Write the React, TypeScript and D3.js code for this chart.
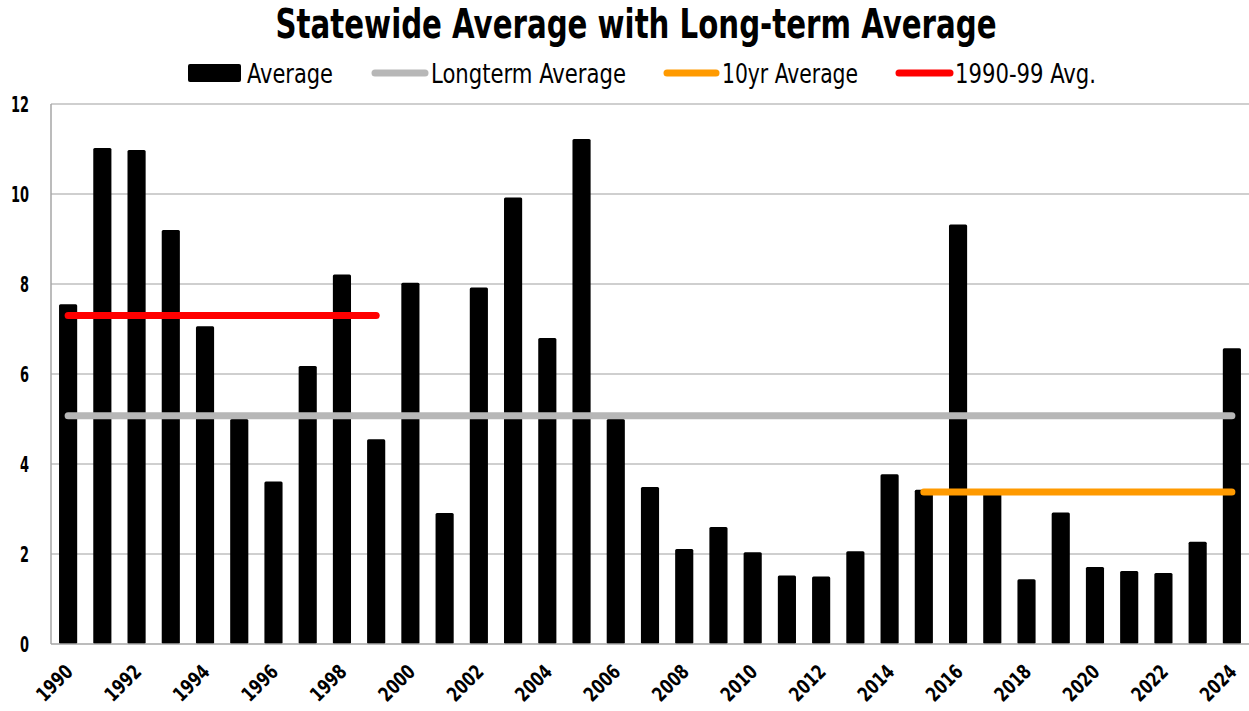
import { useEffect, useRef } from 'react';
import * as d3 from 'd3';

const years = d3.range(1990, 2025).map(String);
const averages = [7.55, 11.02, 10.98, 9.2, 7.06, 5.0, 3.61, 6.18, 8.21, 4.55,
    8.03, 2.91, 7.92, 9.92, 6.8, 11.22, 5.0, 3.49, 2.11, 2.6,
    2.04, 1.52, 1.5, 2.06, 3.77, 3.43, 9.32, 3.35, 1.44, 2.92,
    1.71, 1.62, 1.58, 2.27, 6.57];
const longtermAvg = 5.07;
const tenYrAvg = 3.38;
const nineties = 7.3;
const yTicks = [0, 2, 4, 6, 8, 10, 12];
const legendLabels = ['Average', 'Longterm Average', '10yr Average', '1990-99 Avg.'];

const W = 1249;
const H = 711;
const FONT = '"DejaVu Sans Condensed", "Liberation Sans Narrow", "Roboto", sans-serif';

const App = () => {
    const chartRef = useRef<SVGSVGElement | null>(null);

    useEffect(() => {
        document.body.style.margin = '0';
        const svg = d3.select(chartRef.current);
        svg.selectAll('*').remove();

        // band centers land on even 1/35 steps of the plot width
        const x = d3.scaleBand<string>()
            .domain(years)
            .range([51, 1249])
            .paddingInner(0.47)
            .paddingOuter(0.235);
        const xc = (y: string) => (x(y) ?? 0) + x.bandwidth() / 2;

        const y = d3.scaleLinear().domain([0, 12]).range([644, 104]);

        // grid
        svg.append('g')
            .selectAll('line')
            .data(yTicks.filter(t => t > 0))
            .join('line')
            .attr('x1', 51).attr('x2', 1249)
            .attr('y1', d => y(d)).attr('y2', d => y(d))
            .attr('stroke', '#bfbfbf').attr('stroke-width', 1.5);

        // y labels
        svg.append('g')
            .selectAll('text')
            .data(yTicks)
            .join('text')
            .attr('x', 29).attr('y', d => y(d))
            .attr('dy', '0.36em')
            .attr('text-anchor', 'end')
            .attr('textLength', d => String(d).length * 9)
            .attr('lengthAdjust', 'spacingAndGlyphs')
            .style('font-family', FONT).style('font-weight', 'bold').style('font-size', '22px')
            .text(d => d);

        // bars
        svg.append('g')
            .selectAll('rect')
            .data(averages)
            .join('rect')
            .attr('x', (_, i) => x(years[i]) ?? 0)
            .attr('y', d => y(d))
            .attr('width', x.bandwidth())
            .attr('height', d => y(0) - y(d))
            .attr('rx', 1.5)
            .attr('fill', '#000');

        // axes lines
        svg.append('line')
            .attr('x1', 51).attr('x2', 51).attr('y1', 104).attr('y2', 644)
            .attr('stroke', '#a6a6a6').attr('stroke-width', 1.5);
        svg.append('line')
            .attr('x1', 51).attr('x2', 1249).attr('y1', 644).attr('y2', 644)
            .attr('stroke', '#a6a6a6').attr('stroke-width', 1.5);

        // average lines
        const refLine = (from: string, to: string, v: number, color: string) => {
            svg.append('line')
                .attr('x1', xc(from)).attr('x2', xc(to))
                .attr('y1', y(v)).attr('y2', y(v))
                .attr('stroke', color).attr('stroke-width', 7)
                .attr('stroke-linecap', 'round');
        };
        refLine('1990', '2024', longtermAvg, '#b7b7b7');
        refLine('2015', '2024', tenYrAvg, '#ff9a00');
        refLine('1990', '1999', nineties, '#ff0000');

        // x labels
        svg.append('g')
            .selectAll('text')
            .data(years.filter((_, i) => i % 2 === 0))
            .join('text')
            .attr('transform', d => `translate(${xc(d) + 6},${673}) rotate(-45)`)
            .attr('text-anchor', 'end')
            .attr('textLength', 42).attr('lengthAdjust', 'spacingAndGlyphs')
            .style('font-family', FONT).style('font-weight', 'bold').style('font-size', '20px')
            .text(d => d);

        // title
        svg.append('text')
            .attr('x', 636).attr('y', 38)
            .attr('text-anchor', 'middle')
            .attr('textLength', 721).attr('lengthAdjust', 'spacingAndGlyphs')
            .style('font-family', FONT).style('font-weight', 'bold').style('font-size', '41px')
            .text('Statewide Average with Long-term Average');

        // legend
        const leg = [
            { sx: 188, sw: 53, tx: 247, tw: 86, color: '#000', rect: true },
            { sx: 372, sw: 56, tx: 431, tw: 195, color: '#b7b7b7', rect: false },
            { sx: 664, sw: 55, tx: 722, tw: 136, color: '#ff9a00', rect: false },
            { sx: 896, sw: 57, tx: 955, tw: 141, color: '#ff0000', rect: false },
        ];
        leg.forEach((l, i) => {
            if (l.rect) {
                svg.append('rect')
                    .attr('x', l.sx).attr('y', 64).attr('width', l.sw).attr('height', 18)
                    .attr('rx', 2).attr('fill', l.color);
            } else {
                svg.append('line')
                    .attr('x1', l.sx + 3).attr('x2', l.sx + l.sw - 3)
                    .attr('y1', 73).attr('y2', 73)
                    .attr('stroke', l.color).attr('stroke-width', 7)
                    .attr('stroke-linecap', 'round');
            }
            svg.append('text')
                .attr('x', l.tx).attr('y', 83)
                .attr('textLength', l.tw).attr('lengthAdjust', 'spacingAndGlyphs')
                .style('font-family', FONT).style('font-size', '26px')
                .text(legendLabels[i]);
        });
    }, []);

    return (
        <svg ref={chartRef} width={W} height={H} style={{ display: 'block', background: '#fff' }}></svg>
    );
};

export default App;
